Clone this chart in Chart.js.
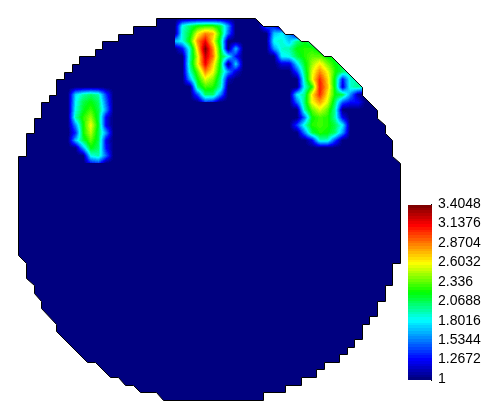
<!DOCTYPE html>
<html>
<head>
<meta charset="utf-8">
<style>
  html, body { margin: 0; padding: 0; background: #fff; }
  canvas { display: block; }
</style>
<script src="https://cdn.jsdelivr.net/npm/chart.js@4"></script>
</head>
<body>
<canvas id="discChart" width="486" height="406"></canvas>
<script>
// disc outline, in grid cells, clockwise from the top
const outlineCols = [18, 31, 32, 34, 35, 36, 37, 38, 40, 41, 45, 45, 47, 47, 48, 48, 49, 49, 50, 50, 49, 49, 48, 48, 47, 47, 46, 46, 45, 45, 44, 44, 43, 43, 42, 42, 40, 40, 39, 39, 37, 37, 35, 35, 32, 32, 19, 18, 16, 15, 14, 13, 12, 10, 9, 5, 5, 3, 3, 2, 2, 1, 1, 0, 0, 1, 1, 2, 2, 3, 3, 4, 4, 5, 5, 6, 6, 7, 7, 8, 8, 10, 10, 11, 11, 13, 13, 15, 15, 18];
const outlineRows = [0, 0, 1, 1, 2, 2, 3, 3, 5, 5, 9, 10, 12, 13, 14, 15, 16, 18, 19, 32, 32, 35, 35, 37, 37, 39, 39, 40, 40, 42, 42, 43, 43, 44, 44, 45, 45, 46, 46, 47, 47, 48, 48, 49, 49, 50, 50, 49, 49, 48, 48, 47, 47, 45, 45, 41, 40, 38, 37, 36, 35, 34, 32, 31, 18, 18, 15, 15, 13, 13, 11, 11, 10, 10, 8, 8, 7, 7, 6, 6, 5, 5, 4, 4, 3, 3, 2, 2, 1, 1];

// hot spots: first column, first row, then node values row by row
const topSpotCol = 20;
const topSpotRow = 0;
const topSpot = [
  [1, 1, 1, 1, 1, 1, 1, 1, 1, 1],
  [1, 1.85, 2.05, 2.2, 2.25, 2.25, 2.1, 1.6, 1, 1],
  [1, 1.9, 2.15, 2.6, 2.85, 2.75, 2.2, 1.5, 1, 1],
  [1.7, 1.85, 2.25, 2.85, 3.15, 2.65, 2.05, 1, 1, 1],
  [1, 1.3, 1.9, 2.7, 3.4, 2.85, 2.15, 1, 1.7, 1],
  [1, 1, 1.95, 2.55, 3.25, 2.9, 2.2, 1.85, 1.3, 1],
  [1, 1, 2.0, 2.6, 3.15, 2.7, 2.15, 1, 1.75, 1],
  [1, 1, 1.9, 2.35, 2.85, 2.6, 2.1, 1.6, 1.2, 1],
  [1, 1, 1.65, 2.2, 2.55, 2.4, 2.0, 1.15, 1, 1],
  [1, 1, 1, 2.05, 2.3, 2.25, 1.95, 1, 1, 1],
  [1, 1, 1, 1.45, 2.05, 2.05, 1.55, 1, 1, 1],
  [1, 1, 1, 1, 1.4, 1.3, 1, 1, 1, 1],
];

const rightSpotCol = 31;
const rightSpotRow = 0;
const rightSpot = [
  [1, 1, 1, 1, 1, 1, 1, 1, 1, 1, 1, 1, 1, 1, 1, 1],
  [1, 1.5, 1.3, 1, 1, 1, 1, 1, 1, 1, 1, 1, 1, 1, 1, 1],
  [1, 1, 1.7, 1.8, 1.6, 1, 1, 1, 1, 1, 1, 1, 1, 1, 1, 1],
  [1, 1, 1.85, 1.9, 1.7, 2.0, 2.15, 2.0, 1, 1, 1, 1, 1, 1, 1, 1],
  [1, 1, 1.6, 1.9, 1.95, 2.2, 2.25, 2.25, 2.1, 1, 1, 1, 1, 1, 1, 1],
  [1, 1, 1, 1.8, 1.85, 2.1, 2.25, 2.35, 2.35, 2.2, 2.1, 1, 1, 1, 1, 1],
  [1, 1, 1, 1.2, 1.2, 1.75, 2.15, 2.45, 2.65, 2.4, 2.2, 2.1, 1, 1, 1, 1],
  [1, 1, 1, 1, 1, 1.4, 2.05, 2.55, 2.85, 2.6, 2.25, 2.05, 1.95, 1.75, 1, 1],
  [1, 1, 1, 1, 1, 1, 1.95, 2.6, 3.05, 2.7, 2.15, 1.3, 1.9, 1.95, 1.6, 1],
  [1, 1, 1, 1, 1, 1, 1.85, 2.25, 3.1, 2.75, 2.15, 1.2, 1.9, 2.0, 1.85, 1],
  [1, 1, 1, 1, 1, 1.8, 2.0, 2.65, 3.05, 2.65, 2.2, 2.1, 1.6, 1.1, 1, 1],
  [1, 1, 1, 1, 1, 1.5, 2.05, 2.6, 2.8, 2.55, 2.05, 1.45, 1.3, 1.3, 1, 1],
  [1, 1, 1, 1, 1, 1, 1.95, 2.35, 2.55, 2.35, 1.95, 1, 1, 1, 1, 1],
  [1, 1, 1, 1, 1, 1, 1.5, 2.2, 2.3, 2.25, 1.95, 1.25, 1, 1, 1, 1],
  [1, 1, 1, 1, 1, 1.4, 1.9, 2.25, 2.3, 2.25, 2.1, 1.8, 1, 1, 1, 1],
  [1, 1, 1, 1, 1, 1, 1.55, 2.1, 2.25, 2.2, 2.05, 1.6, 1, 1, 1, 1],
  [1, 1, 1, 1, 1, 1, 1, 1.25, 1.9, 1.9, 1.4, 1, 1, 1, 1, 1],
  [1, 1, 1, 1, 1, 1, 1, 1, 1, 1, 1, 1, 1, 1, 1, 1],
];

const leftSpotCol = 6;
const leftSpotRow = 9;
const leftSpot = [
  [1, 1, 1, 1, 1, 1, 1],
  [1, 1.75, 1.95, 2.05, 1.95, 1.4, 1],
  [1, 1.8, 2.1, 2.2, 2.05, 1.5, 1],
  [1, 1.85, 2.15, 2.3, 2.1, 1.6, 1],
  [1, 1.95, 2.25, 2.45, 2.1, 1.25, 1],
  [1, 1.6, 2.2, 2.6, 2.15, 1.25, 1],
  [1, 1.35, 2.2, 2.5, 2.1, 1.6, 1],
  [1, 1.7, 2.1, 2.35, 2.1, 1.25, 1],
  [1, 1, 1.65, 2.2, 2.05, 1.3, 1],
  [1, 1, 1, 1.85, 1.95, 1.5, 1],
  [1, 1, 1, 1.3, 1.4, 1, 1],
];

const tickLabels = ['1', '1.2672', '1.5344', '1.8016', '2.0688', '2.336', '2.6032', '2.8704', '3.1376', '3.4048'];
const tickValues = tickLabels.map(Number);
const valueMin = 1;
const valueMax = 3.4048;
const colorLevels = 64;

// colour ramp: position along the range, then r, g, b
const rampStops = [0, 0.111, 0.34, 0.5, 0.67, 0.89, 1];
const rampReds = [0, 0, 0, 0, 255, 255, 128];
const rampGreens = [0, 0, 255, 255, 255, 0, 0];
const rampBlues = [128, 255, 255, 0, 0, 0, 0];

// canvas layout
const cellSize = 7.634;
const discLeft = 18.3;
const discTop = 18.3;
const plotRight = 431;
const plotBottom = 406;
const barLeft = 408;
const barRight = 432;
const barTop = 205;
const barBottom = 380;

function toCol(px) {
  return (px - discLeft) / cellSize;
}

function rampColor(value) {
  const t0 = (value - valueMin) / (valueMax - valueMin);
  const level = Math.max(0, Math.min(colorLevels - 1, Math.floor(t0 * colorLevels)));
  const t = level / (colorLevels - 1);
  let s = 0;
  while (s < rampStops.length - 2 && t > rampStops[s + 1]) s++;
  const f = (t - rampStops[s]) / (rampStops[s + 1] - rampStops[s]);
  const mix = (list) => Math.round(list[s] + (list[s + 1] - list[s]) * f);
  return `rgb(${mix(rampReds)},${mix(rampGreens)},${mix(rampBlues)})`;
}

function tracePolygon(ctx, meta, points) {
  ctx.beginPath();
  points.forEach((p, i) => {
    const px = Math.round(meta.xScale.getPixelForValue(p.x)) + 0.5;
    const py = Math.round(meta.yScale.getPixelForValue(p.y)) + 0.5;
    if (i === 0) ctx.moveTo(px, py);
    else ctx.lineTo(px, py);
  });
  ctx.closePath();
}

// disc polygon, filled or stroked depending on the dataset
class DiscController extends Chart.ScatterController {
  draw() {
    const ctx = this.chart.ctx;
    const dataset = this.getDataset();
    ctx.save();
    tracePolygon(ctx, this.getMeta(), dataset.data);
    if (dataset.discFill) {
      ctx.fillStyle = dataset.discFill;
      ctx.fill();
    }
    if (dataset.discStroke) {
      ctx.strokeStyle = dataset.discStroke;
      ctx.lineWidth = 1;
      ctx.stroke();
    }
    ctx.restore();
  }
}
DiscController.id = 'disc';
DiscController.defaults = {};

// smooth shaded grid: node values blended between neighbours, then mapped to the colour steps
class ShadedGridController extends Chart.ScatterController {
  draw() {
    const ctx = this.chart.ctx;
    const meta = this.getMeta();
    const dataset = this.getDataset();
    const nodes = new Map();
    dataset.data.forEach((p) => nodes.set(p.x + '|' + p.y, p.v));
    const xs = [...new Set(dataset.data.map((p) => p.x))].sort((a, b) => a - b);
    const ys = [...new Set(dataset.data.map((p) => p.y))].sort((a, b) => a - b);

    ctx.save();
    if (dataset.clipPolygon) {
      tracePolygon(ctx, { xScale: this.chart.scales.x, yScale: this.chart.scales.y }, dataset.clipPolygon);
      ctx.clip();
    }
    for (let i = 0; i < xs.length - 1; i++) {
      for (let j = 0; j < ys.length - 1; j++) {
        const v00 = nodes.get(xs[i] + '|' + ys[j]);
        const v10 = nodes.get(xs[i + 1] + '|' + ys[j]);
        const v01 = nodes.get(xs[i] + '|' + ys[j + 1]);
        const v11 = nodes.get(xs[i + 1] + '|' + ys[j + 1]);
        if (Math.max(v00, v10, v01, v11) <= valueMin && !dataset.keepFlat) continue;

        const x0 = meta.xScale.getPixelForValue(xs[i]);
        const x1 = meta.xScale.getPixelForValue(xs[i + 1]);
        const y0 = meta.yScale.getPixelForValue(ys[j]);
        const y1 = meta.yScale.getPixelForValue(ys[j + 1]);
        const top = Math.round(Math.min(y0, y1));
        const bottom = Math.round(Math.max(y0, y1));
        for (let py = top; py < bottom; py++) {
          const fy = (py + 0.5 - y0) / (y1 - y0);
          for (let px = Math.round(x0); px < Math.round(x1); px++) {
            const fx = (px + 0.5 - x0) / (x1 - x0);
            const v = v00 * (1 - fx) * (1 - fy) + v10 * fx * (1 - fy) + v01 * (1 - fx) * fy + v11 * fx * fy;
            ctx.fillStyle = rampColor(v);
            ctx.fillRect(px, py, 1, 1);
          }
        }
      }
    }
    ctx.restore();
  }
}
ShadedGridController.id = 'shadedGrid';
ShadedGridController.defaults = {};

Chart.register(DiscController, ShadedGridController);

function spotNodes(firstCol, firstRow, rows) {
  const points = [];
  rows.forEach((row, r) => {
    row.forEach((v, c) => {
      points.push({ x: firstCol + c + 0.5, y: firstRow + r, v });
    });
  });
  return points;
}

const outlinePoints = outlineCols.map((col, i) => ({ x: col, y: outlineRows[i] }));

const barNodes = [
  { x: toCol(barLeft), y: valueMin, v: valueMin },
  { x: toCol(barRight), y: valueMin, v: valueMin },
  { x: toCol(barLeft), y: valueMax, v: valueMax },
  { x: toCol(barRight), y: valueMax, v: valueMax },
];

const valuePerPx = (valueMax - valueMin) / (barBottom - barTop);

new Chart(document.getElementById('discChart'), {
  type: 'scatter',
  data: {
    datasets: [
      { type: 'disc', data: outlinePoints, discStroke: '#000' },
      { type: 'shadedGrid', data: spotNodes(topSpotCol, topSpotRow, topSpot), clipPolygon: outlinePoints },
      { type: 'shadedGrid', data: spotNodes(rightSpotCol, rightSpotRow, rightSpot), clipPolygon: outlinePoints },
      { type: 'shadedGrid', data: spotNodes(leftSpotCol, leftSpotRow, leftSpot), clipPolygon: outlinePoints },
      { type: 'disc', data: outlinePoints, discFill: '#000080' },
      { type: 'shadedGrid', data: barNodes, yAxisID: 'valueAxis', keepFlat: true, clip: false },
    ],
  },
  options: {
    responsive: false,
    animation: false,
    events: [],
    layout: { padding: 0, autoPadding: false },
    plugins: {
      legend: { display: false },
      title: { display: false },
      tooltip: { enabled: false },
    },
    scales: {
      x: {
        type: 'linear',
        display: false,
        min: toCol(0),
        max: toCol(plotRight),
      },
      y: {
        type: 'linear',
        display: false,
        reverse: true,
        min: -discTop / cellSize,
        max: (plotBottom - discTop) / cellSize,
      },
      valueAxis: {
        type: 'linear',
        axis: 'y',
        position: 'right',
        min: valueMin - (plotBottom - barBottom) * valuePerPx,
        max: valueMax + barTop * valuePerPx,
        border: { display: false },
        grid: { drawOnChartArea: false, tickLength: 1, tickColor: '#000', tickWidth: 1 },
        ticks: {
          color: '#000',
          padding: 6,
          labelOffset: -1,
          autoSkip: false,
          maxRotation: 0,
          font: { family: '"Liberation Sans"', size: 14 },
          callback: (value) => tickLabels[tickValues.indexOf(value)],
        },
        afterBuildTicks: (axis) => {
          axis.ticks = tickValues.map((value) => ({ value }));
        },
        afterFit: (axis) => {
          axis.width = 486 - plotRight;
          axis.paddingTop = 0;
          axis.paddingBottom = 0;
        },
      },
    },
  },
});
</script>
</body>
</html>
